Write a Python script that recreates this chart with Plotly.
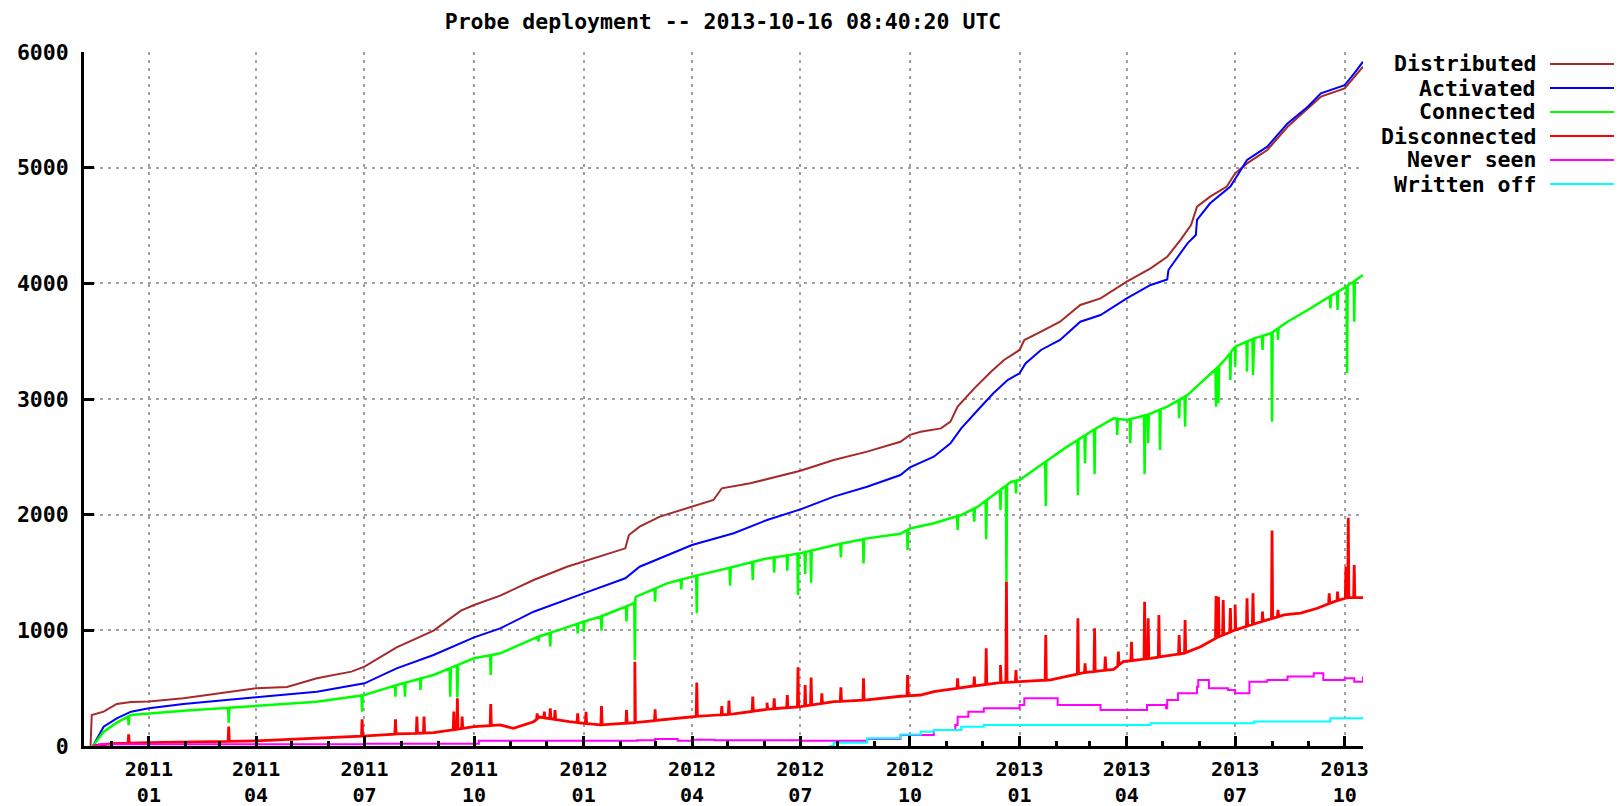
import numpy as np
import pandas as pd
import plotly.graph_objects as go

TITLE = "Probe deployment -- 2013-10-16 08:40:20 UTC"
SERIES_NAMES = ["Distributed", "Activated", "Connected", "Disconnected", "Never seen", "Written off"]
SERIES_COLORS = ["#a52a2a", "#0000ff", "#00ff00", "#ff0000", "#ff00ff", "#00ffff"]
Y_TICKS = [0, 1000, 2000, 3000, 4000, 5000, 6000]

distributed_dates = ["2010-11-13", "2010-11-14", "2010-11-24", "2010-12-05", "2010-12-17", "2011-01-01",
                     "2011-01-30", "2011-04-01", "2011-04-27", "2011-05-22", "2011-06-20", "2011-07-01",
                     "2011-07-28", "2011-08-28", "2011-09-20", "2011-10-01", "2011-10-23", "2011-11-20",
                     "2011-12-18", "2012-01-01", "2012-01-15", "2012-02-05", "2012-02-08", "2012-02-17",
                     "2012-03-05", "2012-04-01", "2012-04-19", "2012-04-26", "2012-05-20", "2012-07-01",
                     "2012-07-29", "2012-08-26", "2012-09-23", "2012-10-01", "2012-10-10", "2012-10-27",
                     "2012-11-04", "2012-11-10", "2012-11-24", "2012-12-08", "2012-12-19", "2013-01-01",
                     "2013-01-05", "2013-01-19", "2013-02-04", "2013-02-21", "2013-03-07", "2013-03-10",
                     "2013-04-01", "2013-04-21", "2013-05-05", "2013-05-16", "2013-05-25", "2013-05-30",
                     "2013-06-10", "2013-06-24", "2013-07-01", "2013-07-11", "2013-07-28", "2013-08-14",
                     "2013-08-31", "2013-09-11", "2013-10-01", "2013-10-16 08:40"]
distributed_values = [0, 268, 297, 363, 380, 384,
                      412, 499, 510, 585, 643, 686,
                      853, 997, 1170, 1219, 1300, 1435,
                      1550, 1594, 1643, 1709, 1824, 1896,
                      1983, 2069, 2127, 2228, 2271, 2380,
                      2473, 2545, 2630, 2690, 2717, 2746,
                      2804, 2934, 3092, 3236, 3337, 3424,
                      3510, 3582, 3668, 3813, 3856, 3870,
                      4014, 4130, 4230, 4374, 4504, 4663,
                      4749, 4836, 4951, 5037, 5153, 5354,
                      5512, 5614, 5686, 5873]

activated_dates = ["2010-11-15", "2010-11-24", "2010-12-05", "2010-12-17", "2011-01-01", "2011-01-30",
                   "2011-04-01", "2011-05-22", "2011-07-01", "2011-07-28", "2011-08-28", "2011-10-01",
                   "2011-10-23", "2011-11-20", "2012-01-01", "2012-02-05", "2012-02-17", "2012-04-01",
                   "2012-05-06", "2012-06-03", "2012-07-01", "2012-07-29", "2012-08-26", "2012-09-23",
                   "2012-10-01", "2012-10-21", "2012-11-04", "2012-11-13", "2012-11-27", "2012-12-10",
                   "2012-12-22", "2013-01-01", "2013-01-06", "2013-01-19", "2013-02-04", "2013-02-21",
                   "2013-03-10", "2013-04-01", "2013-04-21", "2013-05-05", "2013-05-06", "2013-05-22",
                   "2013-05-29", "2013-05-30", "2013-06-10", "2013-06-27", "2013-07-11", "2013-07-28",
                   "2013-08-14", "2013-08-31", "2013-09-11", "2013-10-01", "2013-10-09", "2013-10-16 08:40"]
activated_values = [0, 167, 239, 297, 326, 363,
                    421, 470, 542, 671, 787, 939,
                    1017, 1161, 1320, 1450, 1550, 1738,
                    1839, 1954, 2046, 2156, 2242, 2343,
                    2410, 2501, 2617, 2746, 2905, 3049,
                    3164, 3222, 3308, 3424, 3510, 3668,
                    3726, 3870, 3986, 4034, 4115, 4346,
                    4418, 4548, 4692, 4836, 5066, 5182,
                    5383, 5527, 5642, 5714, 5815, 5916]

connected_dates = ["2010-11-15", "2010-11-24", "2010-12-05", "2010-12-17", "2011-01-01", "2011-01-30",
                   "2011-04-01", "2011-05-22", "2011-07-01", "2011-07-28", "2011-08-28", "2011-10-01",
                   "2011-10-23", "2011-11-20", "2012-01-01", "2012-01-15", "2012-02-12", "2012-02-14",
                   "2012-03-11", "2012-04-01", "2012-05-06", "2012-06-03", "2012-07-01", "2012-07-29",
                   "2012-08-26", "2012-09-23", "2012-10-01", "2012-10-21", "2012-11-13", "2012-11-27",
                   "2012-12-10", "2012-12-25", "2013-01-01", "2013-01-21", "2013-02-10", "2013-03-04",
                   "2013-03-21", "2013-04-01", "2013-04-18", "2013-05-05", "2013-05-22", "2013-06-08",
                   "2013-06-21", "2013-07-01", "2013-07-17", "2013-07-31", "2013-08-14", "2013-08-31",
                   "2013-09-13", "2013-09-28", "2013-10-16 08:40"]
connected_values = [0, 124, 202, 268, 282, 305,
                    346, 383, 441, 527, 614, 758,
                    801, 931, 1075, 1118, 1233, 1291,
                    1406, 1464, 1550, 1622, 1666, 1737,
                    1795, 1835, 1880, 1926, 1997, 2069,
                    2170, 2285, 2300, 2444, 2588, 2732,
                    2833, 2819, 2862, 2934, 3034, 3193,
                    3322, 3452, 3524, 3567, 3668, 3769,
                    3856, 3942, 4072]

connected_dip_dates = ["2010-12-15", "2011-03-09", "2011-06-29", "2011-07-27", "2011-08-04", "2011-08-17",
                       "2011-09-11", "2011-09-17", "2011-10-15", "2011-11-24", "2011-12-04", "2011-12-27",
                       "2012-01-01", "2012-01-16", "2012-02-06", "2012-02-13", "2012-03-01", "2012-03-23",
                       "2012-04-05", "2012-05-03", "2012-05-22", "2012-06-09", "2012-06-20", "2012-06-29",
                       "2012-07-05", "2012-07-10", "2012-08-04", "2012-08-23", "2012-09-29", "2012-11-10",
                       "2012-11-24", "2012-12-04", "2012-12-16", "2012-12-21", "2012-12-29", "2013-01-23",
                       "2013-02-19", "2013-02-25", "2013-03-05", "2013-03-24", "2013-04-04", "2013-04-16",
                       "2013-04-19", "2013-04-29", "2013-05-15", "2013-05-20", "2013-06-15", "2013-06-17",
                       "2013-06-27", "2013-07-01", "2013-07-11", "2013-07-16", "2013-07-24", "2013-08-01",
                       "2013-08-06", "2013-09-19", "2013-09-25", "2013-10-03", "2013-10-09"]
connected_dip_values = [180, 202, 297, 426, 426, 484,
                        426, 420, 614, 902, 860, 974,
                        987, 996, 1075, 743, 1248, 1354,
                        1147, 1386, 1435, 1499, 1516, 1305,
                        1487, 1412, 1631, 1579, 1694, 1867,
                        1939, 1787, 2040, 1421, 2184, 2075,
                        2170, 2444, 2352, 2689, 2617, 2352,
                        2617, 2559, 2833, 2761, 2934, 2963,
                        3164, 3280, 3236, 3207, 3424, 2804,
                        3510, 3784, 3769, 3222, 3668]

disconnected_dates = ["2010-11-15", "2010-12-01", "2011-01-01", "2011-04-01", "2011-07-01", "2011-07-28",
                      "2011-08-28", "2011-10-01", "2011-10-23", "2011-11-03", "2011-11-20", "2011-11-25",
                      "2011-12-20", "2012-01-15", "2012-02-13", "2012-04-01", "2012-05-06", "2012-06-03",
                      "2012-07-01", "2012-07-29", "2012-08-26", "2012-09-23", "2012-10-10", "2012-10-21",
                      "2012-11-19", "2012-12-16", "2013-01-01", "2013-01-27", "2013-02-24", "2013-03-21",
                      "2013-03-29", "2013-04-21", "2013-05-19", "2013-06-02", "2013-06-16", "2013-07-01",
                      "2013-07-14", "2013-07-28", "2013-08-11", "2013-08-25", "2013-09-08", "2013-09-22",
                      "2013-10-03", "2013-10-16 08:40"]
disconnected_values = [0, 20, 29, 44, 86, 104,
                       115, 167, 182, 153, 210, 250,
                       210, 182, 202, 253, 277, 317,
                       340, 383, 398, 430, 441, 470,
                       513, 548, 556, 571, 634, 663,
                       729, 758, 801, 858, 939, 1003,
                       1046, 1090, 1133, 1148, 1191, 1249,
                       1282, 1282]

disconnected_spike_dates = ["2010-12-15", "2011-03-09", "2011-06-29", "2011-07-27", "2011-08-14", "2011-08-20",
                            "2011-09-14", "2011-09-17", "2011-09-21", "2011-10-15", "2011-11-23", "2011-11-29",
                            "2011-12-04", "2011-12-08", "2011-12-27", "2012-01-03", "2012-01-16", "2012-02-06",
                            "2012-02-13", "2012-03-01", "2012-04-05", "2012-04-26", "2012-05-02", "2012-05-22",
                            "2012-06-03", "2012-06-09", "2012-06-20", "2012-06-29", "2012-07-05", "2012-07-10",
                            "2012-07-19", "2012-08-04", "2012-08-23", "2012-09-29", "2012-11-10", "2012-11-24",
                            "2012-12-04", "2012-12-16", "2012-12-21", "2012-12-29", "2013-01-23", "2013-02-19",
                            "2013-02-25", "2013-03-05", "2013-03-14", "2013-03-25", "2013-04-05", "2013-04-16",
                            "2013-04-19", "2013-04-28", "2013-05-15", "2013-05-20", "2013-06-15", "2013-06-17",
                            "2013-06-21", "2013-06-27", "2013-07-01", "2013-07-11", "2013-07-16", "2013-07-24",
                            "2013-08-01", "2013-08-06", "2013-09-18", "2013-09-25", "2013-10-02", "2013-10-04",
                            "2013-10-09"]
disconnected_spike_values = [100, 167, 231, 231, 254, 254,
                             297, 412, 254, 363, 282, 296,
                             325, 311, 282, 296, 346, 311,
                             729, 317, 548, 346, 392, 427,
                             375, 412, 441, 680, 527, 592,
                             455, 507, 585, 614, 585, 600,
                             844, 700, 1421, 657, 960, 1104,
                             715, 1017, 773, 816, 902, 1248,
                             1104, 1133, 960, 1090, 1297, 1290,
                             1262, 1192, 1220, 1277, 1320, 1162,
                             1862, 1176, 1320, 1335, 1550, 1974,
                             1565]

never_seen_dates = ["2010-11-15", "2010-11-20", "2011-07-01", "2011-10-05", "2012-02-15", "2012-03-01",
                    "2012-03-20", "2012-04-01", "2012-04-20", "2012-07-01", "2012-08-26", "2012-09-23",
                    "2012-10-21", "2012-11-08", "2012-11-10", "2012-11-19", "2012-12-02", "2013-01-01",
                    "2013-01-05", "2013-01-19", "2013-02-02", "2013-02-24", "2013-03-10", "2013-04-01",
                    "2013-04-18", "2013-05-04", "2013-05-05", "2013-05-14", "2013-05-30", "2013-05-31",
                    "2013-06-09", "2013-06-25", "2013-07-01", "2013-07-12", "2013-07-13", "2013-07-28",
                    "2013-08-14", "2013-09-05", "2013-09-13", "2013-10-01", "2013-10-09", "2013-10-16 08:40"]
never_seen_values = [0, 15, 20, 45, 50, 60,
                     45, 55, 50, 45, 60, 95,
                     138, 182, 253, 297, 326, 354,
                     412, 412, 354, 354, 311, 311,
                     354, 326, 398, 456, 513, 571,
                     499, 484, 456, 456, 556, 571,
                     600, 628, 571, 585, 556, 600]

written_off_dates = ["2012-07-25", "2012-07-29", "2012-08-26", "2012-09-23", "2012-10-10", "2012-10-21",
                     "2012-11-13", "2012-12-02", "2013-04-21", "2013-07-17", "2013-09-19", "2013-10-16 08:40"]
written_off_values = [0, 28, 66, 100, 124, 138,
                      167, 182, 196, 211, 240, 250]


def to_dt(dates):
    return pd.to_datetime(pd.Series(dates), format="ISO8601")


def with_spikes(dates, values, spike_dates, spike_values):
    """Add short excursions to a line: leave the drawn line, reach the read extreme, return to the line."""
    d = to_dt(dates)
    t = d.astype("int64").to_numpy().astype(float)
    v = np.asarray(values, dtype=float)
    pts = list(zip(d, v))
    half = pd.Timedelta(hours=12)
    for sd, sv in zip(to_dt(spike_dates), spike_values):
        for ed in (sd - half, sd + half):
            pts.append((ed, float(np.interp(float(ed.value), t, v))))
        pts.append((sd, float(sv)))
    pts.sort(key=lambda p: p[0])
    return [p[0] for p in pts], [p[1] for p in pts]


conn_x, conn_y = with_spikes(connected_dates, connected_values, connected_dip_dates, connected_dip_values)
disc_x, disc_y = with_spikes(disconnected_dates, disconnected_values, disconnected_spike_dates,
                             disconnected_spike_values)

series_x = [to_dt(distributed_dates), to_dt(activated_dates), conn_x, disc_x,
            to_dt(never_seen_dates), to_dt(written_off_dates)]
series_y = [distributed_values, activated_values, conn_y, disc_y, never_seen_values, written_off_values]
series_shape = ["linear", "linear", "linear", "linear", "hv", "hv"]
series_width = [2, 2, 2.5, 2.8, 2, 2]

# the page body has an 8px margin; figure coordinates are page coordinates minus 8
OFF = 8
W, H = 1624 - OFF, 806 - OFF
PLOT_L, PLOT_R, PLOT_T, PLOT_B = 84 - OFF, 1363 - OFF, 52 - OFF, 746 - OFF
L, R, T, B = PLOT_L, W - PLOT_R, PLOT_T, H - PLOT_B
PW, PH = PLOT_R - PLOT_L, PLOT_B - PLOT_T
FONT = dict(family="DejaVu Sans Mono", size=21.5, color="#000000", weight="bold")
XTICK_FONT = dict(family="DejaVu Sans Mono", size=20, color="#000000", weight="bold")

fig = go.Figure()
for name, color, xs, ys, shp, lw in zip(SERIES_NAMES, SERIES_COLORS, series_x, series_y,
                                         series_shape, series_width):
    fig.add_trace(go.Scatter(x=list(xs), y=list(ys), mode="lines", name=name,
                             line=dict(color=color, width=lw, shape=shp),
                             showlegend=False, hoverinfo="skip"))

# legend: right-aligned text with line sample to the right
for i, (name, color) in enumerate(zip(SERIES_NAMES, SERIES_COLORS)):
    ypx = 64 - OFF + i * 24.0
    yp = (PLOT_B - ypx) / PH
    fig.add_annotation(xref="paper", yref="paper", x=(1538 - OFF - PLOT_L) / PW, y=yp, text=name,
                       showarrow=False, xanchor="right", yanchor="middle", font=FONT)
    fig.add_shape(type="line", xref="paper", yref="paper",
                  x0=(1550 - OFF - PLOT_L) / PW, x1=(1614 - OFF - PLOT_L) / PW, y0=yp, y1=yp,
                  line=dict(color=color, width=2))

fig.update_layout(
    width=W, height=H,
    margin=dict(l=L, r=R, t=T, b=B, autoexpand=False),
    paper_bgcolor="#ffffff", plot_bgcolor="#ffffff",
    title=dict(text=TITLE, x=(723 - OFF) / W, xanchor="center", xref="container",
               y=1 - 13 / H, yanchor="middle", yref="container", font=FONT, automargin=False),
    font=FONT,
    showlegend=False,
)
fig.update_xaxes(
    type="date", range=["2010-11-07 12:00", "2013-10-16 08:40"],
    tick0="2011-01-01", dtick="M3", tickformat="%Y<br>%m",
    ticks="inside", ticklen=10, tickwidth=3, tickcolor="#000000",
    minor=dict(ticks="inside", dtick="M1", ticklen=5, tickwidth=3, tickcolor="#000000", showgrid=False),
    showgrid=True, gridcolor="#a0a0a0", gridwidth=1.5, griddash="3px,5px",
    showline=True, linecolor="#000000", linewidth=3, mirror=False, zeroline=False,
    tickfont=XTICK_FONT, ticklabelstandoff=3, automargin=False,
)
fig.update_yaxes(
    range=[0, 6000], tickvals=Y_TICKS, ticktext=[str(v) for v in Y_TICKS],
    ticks="inside", ticklen=10, tickwidth=3, tickcolor="#000000",
    showgrid=True, gridcolor="#a0a0a0", gridwidth=1.5, griddash="3px,5px",
    showline=True, linecolor="#000000", linewidth=3, mirror=False, zeroline=False,
    tickfont=FONT, ticklabelstandoff=8, automargin=False,
)

fig.write_html("out.html")
